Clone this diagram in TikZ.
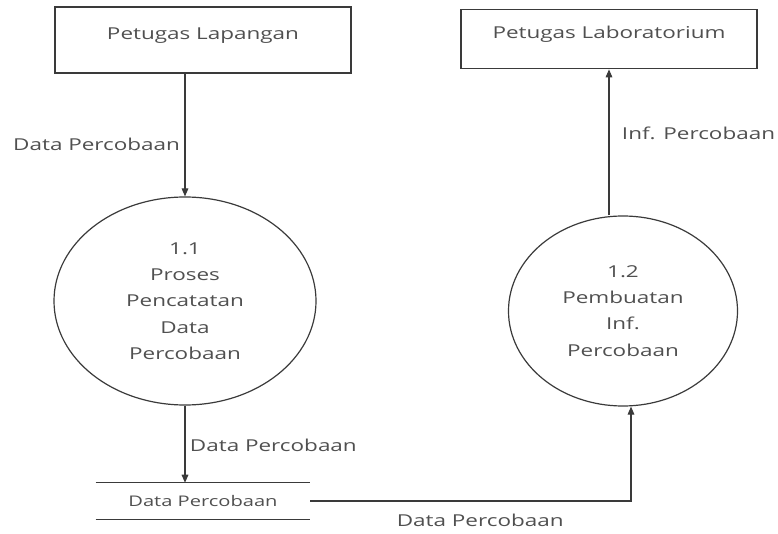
\documentclass[tikz,border=0pt]{standalone}
\usepackage{fontspec}
\setmainfont{Open Sans}[FakeStretch=1.37]
\usetikzlibrary{shapes.geometric,arrows.meta}
\definecolor{inkline}{HTML}{3A3A3A}
\definecolor{inktext}{HTML}{505050}
\tikzset{
  entity/.style={draw=inkline,line width=1pt,minimum width=222pt,minimum height=49.5pt,text height=9pt,text depth=10.3pt,inner sep=0pt},
  process/.style={draw=inkline,line width=0.9pt,ellipse,inner sep=0pt,align=center},
  flow/.style={draw=inkline,line width=0.8pt,-{Triangle[length=6pt,width=5pt]}}
}
\begin{document}
\begin{tikzpicture}[x=0.75pt,y=-0.75pt,font=\fontsize{12.3pt}{19.7pt}\selectfont,text=inktext]
\useasboundingbox (0,0) rectangle (778,534);
\node[entity] (field) at (203,40) {Petugas Lapangan};
\node[entity,minimum height=44.6pt] (lab) at (609,39) {Petugas Laboratorium};
\node[process,minimum width=196.5pt,minimum height=156pt] (proc1) at (185,301) {1.1\\Proses\\Pencatatan\\Data\\Percobaan};
\node[process,minimum width=171.75pt,minimum height=142.5pt] (proc2) at (623,311) {1.2\\Pembuatan\\Inf.\\Percobaan};
\node[inner sep=0pt,minimum width=160.5pt,minimum height=27pt,font=\fontsize{11pt}{13pt}\selectfont] (store) at (203,501) {Data Percobaan};
\draw[draw=inkline,line width=0.8pt] (store.north west) -- (store.north east) (store.south west) -- (store.south east);
% data flows
\draw[flow] (field.south -| proc1.north) -- node[left,pos=0.58] (lbl1) {Data Percobaan} (proc1.north);
\draw[flow] (proc1.south) -- node[right,pos=0.51] (lbl2) {Data Percobaan} (store.north -| proc1.south);
\draw[flow] (store.east) -| node[below=6pt,pos=0.265] (lbl3) {Data Percobaan} ([xshift=6pt]proc2.south);
\draw[flow] (proc2.north -| lab.south) -- node[right=6pt,pos=0.56] (lbl4) {Inf. Percobaan} (lab.south);
\end{tikzpicture}
\end{document}
